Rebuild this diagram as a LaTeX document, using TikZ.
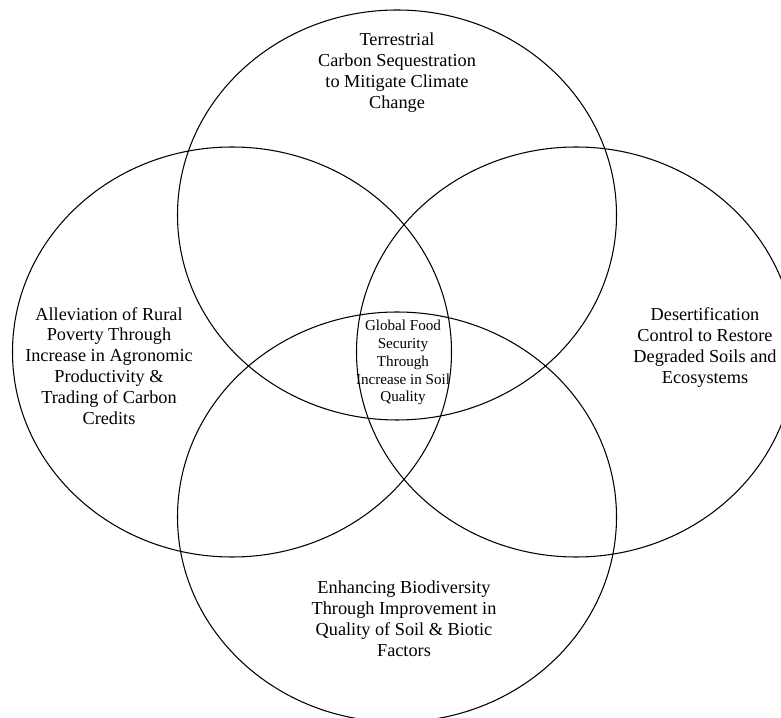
\documentclass[tikz,border=0pt]{standalone}
\usepackage{fontspec}
\setmainfont{Liberation Serif}
\tikzset{ring/.style={line width=0.6pt},
  lbl/.style={align=center, font=\fontsize{10.4}{11.9}\selectfont},
  hub/.style={align=center, font=\fontsize{8.6}{10.2}\selectfont}}

\begin{document}
\begin{tikzpicture}[scale=2]
\useasboundingbox (0,0) rectangle (7.81,-7.18);
% the four overlapping rings
\foreach \cx/\cy in {3.97/-2.15, 2.32/-3.52, 5.76/-3.52, 3.97/-5.17}
\draw[ring] (\cx,\cy) ellipse (2.195 and 2.05);
% ring labels
\node[lbl] (carbon) at (3.97,-0.73) {Terrestrial\\Carbon Sequestration\\to Mitigate Climate\\Change};
\node[lbl] (poverty) at (1.09,-3.66) {Alleviation of Rural\\Poverty Through\\Increase in Agronomic\\Productivity \&\\Trading of Carbon\\Credits};
\node[lbl] (desert) at (7.05,-3.475) {Desertification\\Control to Restore\\Degraded Soils and\\Ecosystems};
\node[lbl] (biodiv) at (4.04,-6.19) {Enhancing Biodiversity\\Through Improvement in\\Quality of Soil \& Biotic\\Factors};
% shared centre
\node[hub] (food) at (4.03,-3.625) {Global Food\\Security\\Through\\Increase in Soil\\Quality};
\end{tikzpicture}
\end{document}
